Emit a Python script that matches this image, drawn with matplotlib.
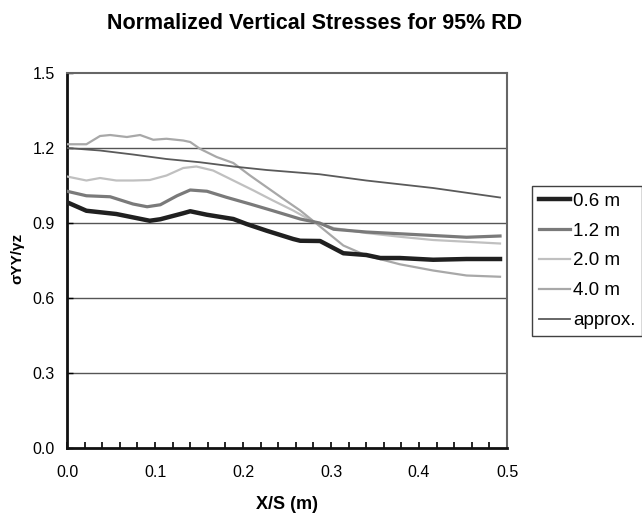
import matplotlib
matplotlib.use("Agg")
import matplotlib.pyplot as plt
from matplotlib.ticker import MultipleLocator

plt.rcParams['font.family'] = ['Liberation Sans', 'DejaVu Sans']

# values
x_06 = [0.0, 0.022, 0.056, 0.094, 0.106, 0.132, 0.140, 0.159, 0.189, 0.204, 0.227,
        0.257, 0.265, 0.2875, 0.314, 0.34, 0.356, 0.378, 0.416, 0.454, 0.492]
y_06 = [0.983, 0.949, 0.936, 0.909, 0.915, 0.939, 0.947, 0.933, 0.916, 0.896, 0.869,
        0.836, 0.829, 0.828, 0.779, 0.772, 0.760, 0.760, 0.753, 0.756, 0.756]

x_12 = [0.0, 0.022, 0.049, 0.075, 0.091, 0.106, 0.125, 0.140, 0.159, 0.181, 0.208,
        0.234, 0.265, 0.287, 0.303, 0.34, 0.378, 0.416, 0.454, 0.492]
y_12 = [1.027, 1.009, 1.005, 0.976, 0.965, 0.973, 1.009, 1.032, 1.027, 1.003, 0.976,
        0.949, 0.916, 0.900, 0.875, 0.864, 0.857, 0.850, 0.843, 0.848]

x_20 = [0.0, 0.022, 0.0375, 0.056, 0.075, 0.094, 0.113, 0.132, 0.147, 0.166, 0.189,
        0.212, 0.234, 0.257, 0.280, 0.303, 0.34, 0.378, 0.416, 0.454, 0.492]
y_20 = [1.086, 1.070, 1.080, 1.070, 1.070, 1.072, 1.090, 1.120, 1.126, 1.110, 1.070,
        1.030, 0.990, 0.950, 0.905, 0.880, 0.860, 0.845, 0.832, 0.825, 0.818]

x_40 = [0.0, 0.022, 0.0375, 0.049, 0.068, 0.083, 0.098, 0.113, 0.132, 0.140, 0.151,
        0.170, 0.189, 0.208, 0.227, 0.246, 0.265, 0.284, 0.314, 0.34, 0.378, 0.416,
        0.454, 0.492]
y_40 = [1.215, 1.215, 1.248, 1.252, 1.244, 1.252, 1.233, 1.237, 1.230, 1.224, 1.197,
        1.164, 1.140, 1.090, 1.043, 0.996, 0.950, 0.896, 0.810, 0.770, 0.735, 0.710,
        0.690, 0.685]

x_ap = [0.0, 0.0375, 0.075, 0.113, 0.151, 0.189, 0.227, 0.287, 0.34, 0.416, 0.492]
y_ap = [1.200, 1.190, 1.174, 1.156, 1.143, 1.126, 1.112, 1.095, 1.070, 1.040, 1.002]

fig = plt.figure(figsize=(6.42, 5.16), dpi=100)
ax = fig.add_axes([0.1044, 0.1318, 0.6854, 0.7267])

for g in [0.3, 0.6, 0.9, 1.2]:
    ax.axhline(g, color='#555555', lw=1.0, zorder=1)

ax.plot(x_06, y_06, color='#202020', lw=3.2, label='0.6 m', zorder=5)
ax.plot(x_12, y_12, color='#7a7a7a', lw=2.3, label='1.2 m', zorder=4)
ax.plot(x_20, y_20, color='#c0c0c0', lw=1.6, label='2.0 m', zorder=3)
ax.plot(x_40, y_40, color='#a8a8a8', lw=1.6, label='4.0 m', zorder=3)
ax.plot(x_ap, y_ap, color='#5a5a5a', lw=1.3, label='approx.', zorder=4)

ax.set_xlim(0, 0.5)
ax.set_ylim(0, 1.5)
ax.xaxis.set_major_locator(MultipleLocator(0.1))
ax.xaxis.set_minor_locator(MultipleLocator(0.02))
ax.yaxis.set_major_locator(MultipleLocator(0.3))
ax.tick_params(axis='x', which='both', direction='in', length=4, width=1.2,
               labelsize=11.5, pad=12)
ax.tick_params(axis='y', direction='in', length=4, width=1.0, labelsize=11.5, pad=9)
ax.set_xticklabels([f'{v:.1f}' for v in ax.get_xticks()])
ax.set_yticklabels([f'{v:.1f}' for v in ax.get_yticks()])

for s in ['left', 'bottom']:
    ax.spines[s].set_linewidth(2.0)
    ax.spines[s].set_color('#111111')
for s in ['top', 'right']:
    ax.spines[s].set_linewidth(1.5)
    ax.spines[s].set_color('#666666')

ax.set_xlabel('X/S (m)', fontsize=13, fontweight='bold', labelpad=12)
fig.text(0.027, 0.5, 'σYY/γz', rotation=90, fontsize=11, fontweight='bold',
         ha='center', va='center')
fig.text(0.49, 0.955, 'Normalized Vertical Stresses for 95% RD', fontsize=15.5,
         fontweight='bold', ha='center', va='center')

leg = ax.legend(loc='upper left', bbox_to_anchor=(0.8287, 0.6395),
                bbox_transform=fig.transFigure, fontsize=13.5, frameon=True,
                fancybox=False, edgecolor='#111111', handlelength=1.7,
                handletextpad=0.15, borderpad=0.35, labelspacing=0.68,
                borderaxespad=0)
leg.get_frame().set_linewidth(1.0)

fig.savefig('out.png', dpi=100)
